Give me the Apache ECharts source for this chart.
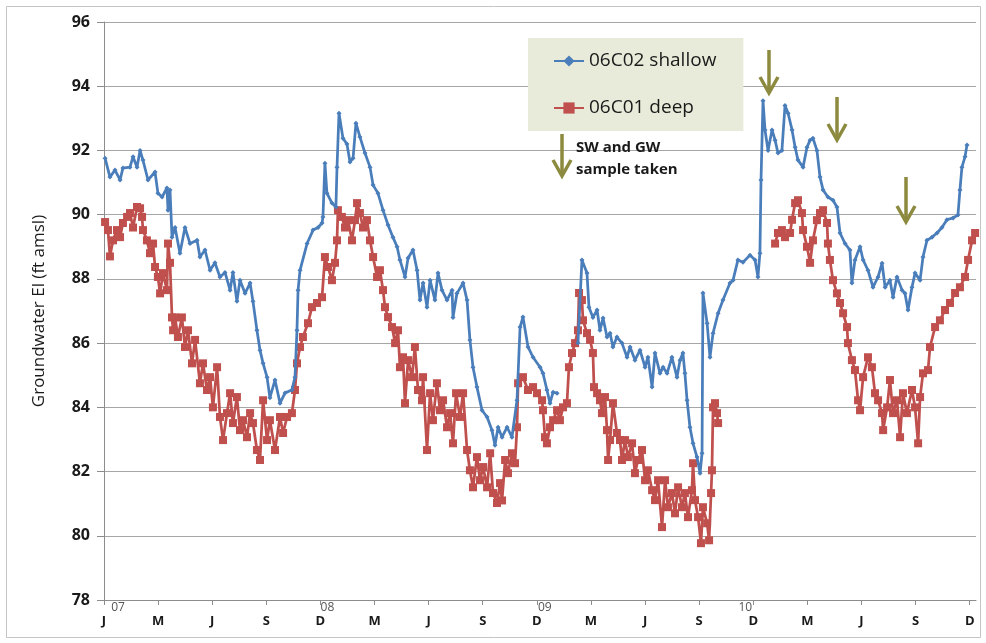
<!DOCTYPE html>
<html>
<head>
<meta charset="utf-8">
<script src="https://cdn.jsdelivr.net/npm/echarts@6/dist/echarts.min.js"></script>
<style>html,body{margin:0;padding:0;background:#fff}#c{width:986px;height:643px}</style>
</head>
<body>
<div id="c"></div>
<script>
// x values are months since the first "J" tick (Jan 2007); null level = gap in record
var monthLabels = ['J','M','J','S','D','M','J','S','D','M','J','S','D','M','J','S','D'];
var yearLabels = ['07','08','09','10'];
var yearTickMonths = [0, 12, 24, 36];

var shallowMonths = [0.06,0.33,0.61,0.89,1.05,1.44,1.61,1.83,2.00,2.16,2.44,2.83,2.99,3.22,3.49,3.55,3.66,3.77,3.94,4.21,4.49,4.77,5.16,5.32,5.60,5.88,6.15,6.43,6.71,6.99,7.15,7.37,7.54,7.82,8.10,8.26,8.48,8.65,8.82,9.04,9.20,9.48,9.76,10.04,10.42,10.59,10.70,10.76,10.87,11.26,11.59,11.87,12.09,12.14,12.25,12.36,12.64,12.86,12.92,13.03,13.25,13.47,13.64,13.81,13.97,14.19,14.47,14.75,14.92,15.19,15.47,15.75,16.02,16.25,16.41,16.69,16.86,17.13,17.36,17.52,17.69,17.91,18.08,18.35,18.52,18.74,19.02,19.30,19.35,19.57,19.91,20.13,20.29,20.46,20.68,20.96,21.24,21.51,21.68,21.85,22.07,22.35,22.62,22.90,23.07,23.23,23.51,23.79,24.18,24.34,24.56,24.73,24.90,25.12,25.70,26.28,26.50,26.78,26.89,27.11,27.34,27.50,27.67,27.89,28.06,28.22,28.44,28.72,29.00,29.17,29.44,29.72,30.00,30.16,30.39,30.55,30.83,31.00,31.22,31.49,31.77,31.94,32.10,32.21,32.33,32.49,32.66,32.88,33.05,33.16,33.21,33.44,33.60,33.77,34.05,34.32,34.71,34.88,35.15,35.43,35.82,36.10,36.26,36.37,36.43,36.54,36.65,36.82,37.04,37.21,37.37,37.59,37.76,37.93,38.15,38.32,38.48,38.76,38.98,39.15,39.31,39.53,39.70,39.87,40.14,40.42,40.64,40.81,41.09,41.36,41.47,41.64,41.92,42.09,42.36,42.64,42.92,43.14,43.31,43.58,43.75,43.97,44.25,44.41,44.58,44.80,44.97,45.25,45.41,45.63,45.91,46.19,46.46,46.74,47.08,47.35,47.46,47.57,47.74,47.85];
var shallowLevels = [91.76,91.17,91.39,91.08,91.45,91.48,91.80,91.48,92.00,91.70,91.08,91.33,90.67,90.55,90.83,90.14,90.77,89.30,89.60,88.80,89.60,89.10,89.20,88.68,88.90,88.27,88.50,88.06,88.20,87.65,88.20,87.30,87.96,87.55,87.87,87.30,86.40,85.78,85.37,84.94,84.30,84.85,84.13,84.45,84.54,84.94,86.40,87.65,88.27,89.10,89.52,89.60,89.74,89.93,91.60,90.67,90.36,90.24,91.48,93.16,92.38,92.20,91.64,91.76,92.85,92.42,91.92,91.48,90.92,90.67,90.14,89.68,89.30,89.00,88.59,88.06,88.65,88.90,88.27,87.34,87.87,87.12,87.96,87.34,88.18,87.65,87.34,87.65,86.80,87.55,87.87,87.34,86.10,85.25,84.63,83.91,83.70,83.29,82.82,83.38,83.07,83.38,83.07,84.22,86.50,86.81,85.88,85.56,85.25,85.06,84.54,84.13,84.47,84.44,null,86.00,88.59,88.18,87.12,86.80,87.03,86.40,86.78,86.19,86.31,85.88,86.19,86.00,85.56,85.88,85.47,85.78,85.25,85.56,84.63,85.69,85.06,85.25,85.06,85.56,84.94,85.47,85.69,85.06,84.22,83.38,82.88,82.45,81.95,82.57,87.56,86.62,85.56,86.31,86.93,87.34,87.87,87.96,88.59,88.52,88.74,88.59,88.06,88.80,91.08,93.55,92.64,92.00,92.64,92.32,91.92,92.00,93.40,93.16,92.64,92.10,91.70,91.48,92.10,92.32,92.38,92.00,91.17,90.77,90.55,90.45,90.24,89.43,89.10,88.90,87.87,88.59,89.00,88.59,88.27,87.74,88.06,88.49,87.74,87.96,87.43,88.06,87.65,87.55,87.03,87.74,88.18,87.96,88.68,89.20,89.30,89.43,89.60,89.84,89.90,89.99,90.77,91.48,91.80,92.17];

var deepMonths = [0.06,0.22,0.33,0.50,0.72,0.89,1.05,1.28,1.44,1.61,1.83,2.00,2.11,2.16,2.38,2.55,2.72,2.83,2.99,3.11,3.27,3.49,3.55,3.66,3.77,3.83,3.94,4.10,4.32,4.49,4.66,4.88,5.05,5.32,5.49,5.71,5.88,6.04,6.27,6.43,6.60,6.82,6.99,7.15,7.37,7.54,7.71,7.93,8.10,8.26,8.48,8.65,8.82,9.04,9.20,9.48,9.76,9.93,10.15,10.42,10.59,10.70,10.87,11.03,11.31,11.53,11.81,12.09,12.25,12.42,12.64,12.81,12.92,12.97,13.19,13.36,13.53,13.75,13.92,14.03,14.19,14.36,14.58,14.75,14.92,15.14,15.30,15.47,15.58,15.75,15.97,16.14,16.30,16.41,16.58,16.69,16.86,17.08,17.24,17.41,17.63,17.69,17.91,18.08,18.24,18.46,18.63,18.80,19.02,19.19,19.35,19.52,19.74,19.91,20.13,20.29,20.46,20.68,20.85,21.02,21.24,21.41,21.57,21.79,21.96,22.07,22.24,22.40,22.62,22.79,22.90,22.96,23.23,23.51,23.79,24.01,24.29,24.34,24.45,24.56,24.73,24.90,25.12,25.28,25.45,25.67,25.78,25.95,26.12,26.28,26.34,26.50,26.56,26.78,26.95,27.11,27.17,27.34,27.50,27.61,27.78,27.89,27.95,28.06,28.22,28.44,28.61,28.72,28.89,29.05,29.28,29.44,29.61,29.83,30.00,30.16,30.39,30.55,30.72,30.94,31.11,31.27,31.49,31.66,31.83,32.05,32.21,32.38,32.60,32.66,32.77,32.94,33.10,33.21,33.44,33.55,33.66,33.71,33.77,33.88,33.99,34.05,35.60,37.21,37.37,37.59,37.76,38.04,38.15,38.32,38.48,38.70,38.76,38.98,39.15,39.31,39.53,39.70,39.87,40.09,40.14,40.25,40.42,40.64,40.81,40.98,41.20,41.25,41.47,41.64,41.81,41.92,42.09,42.36,42.58,42.75,42.92,43.14,43.20,43.42,43.58,43.75,43.97,44.14,44.30,44.52,44.80,44.97,45.14,45.25,45.41,45.69,45.80,46.08,46.35,46.63,46.91,47.19,47.46,47.74,47.91,48.13,48.30];
var deepLevels = [89.77,89.52,88.70,89.20,89.52,89.30,89.74,89.93,90.05,89.60,90.24,90.20,89.93,89.52,89.20,88.80,89.10,88.37,88.06,87.55,88.18,87.65,89.10,88.50,86.80,86.40,86.80,86.19,86.80,85.88,86.40,85.37,86.10,84.75,85.37,84.54,84.94,84.00,85.25,83.70,82.98,83.82,84.44,83.51,84.32,83.29,83.60,83.07,83.82,83.51,82.67,82.36,84.22,82.98,83.60,82.67,83.70,83.20,83.70,83.82,84.54,85.37,85.88,86.19,86.62,87.12,87.25,87.43,88.68,88.37,87.96,88.50,89.20,90.14,89.93,89.60,89.83,89.20,89.83,90.36,90.05,89.60,89.83,89.20,88.68,88.06,88.27,87.65,87.12,86.81,86.50,86.00,86.40,85.25,85.56,84.13,85.47,84.94,85.88,84.54,84.22,84.94,82.67,84.44,83.60,84.75,83.91,84.22,83.38,83.82,82.88,84.44,83.70,84.44,82.67,82.04,81.51,82.45,81.73,82.14,81.51,82.57,81.33,81.02,81.64,81.10,82.36,81.95,82.57,82.26,83.38,84.75,84.94,84.54,84.63,84.44,84.22,83.91,83.07,82.88,83.38,83.60,83.91,83.60,84.00,84.13,85.25,85.69,86.00,86.40,87.56,87.34,86.71,86.31,86.10,85.69,84.63,84.44,84.22,83.82,84.32,83.29,82.36,82.98,84.13,83.20,82.98,82.36,82.98,82.45,82.88,81.95,82.36,82.67,81.73,82.04,81.42,81.11,81.73,80.27,81.73,80.89,81.33,80.70,81.51,80.89,81.33,80.58,81.42,82.26,81.11,80.58,79.77,80.89,80.39,79.86,81.33,82.04,84.00,84.13,83.82,83.51,null,89.10,89.43,89.52,89.30,89.43,89.84,90.36,90.45,90.05,89.52,89.00,88.50,89.20,89.83,90.05,90.14,89.74,89.10,88.59,87.96,87.55,87.25,86.93,86.50,86.00,85.47,85.16,84.22,83.91,84.94,85.56,85.25,84.44,84.22,83.82,83.29,84.00,84.85,83.82,84.22,83.07,84.44,83.82,84.54,84.00,82.88,84.32,85.06,85.16,85.88,86.50,86.71,87.03,87.25,87.56,87.74,88.06,88.59,89.20,89.43];

function zip(xs, ys) { return xs.map(function (x, i) { return [x, ys[i]]; }); }

var FONT = 'Open Sans';
var tickMonths = monthLabels.map(function (_, i) { return i * 3; });

var chart = echarts.init(document.getElementById('c'), null, { renderer: 'canvas' });
var option = {
  animation: false,
  backgroundColor: '#ffffff',
  grid: { left: 104, right: 10, top: 22, bottom: 43, containLabel: false },
  xAxis: {
    type: 'value', min: 0, max: 48.35,
    axisLine: { show: true, onZero: false, lineStyle: { color: '#8c8c8c', width: 1 } },
    axisTick: { show: true, customValues: tickMonths, length: 5, lineStyle: { color: '#8c8c8c' } },
    axisLabel: {
      customValues: tickMonths, margin: 15,
      fontFamily: FONT, fontWeight: 'bold', fontSize: 13, color: '#1a1a1a',
      formatter: function (v) { var i = Math.round(v / 3); return monthLabels[i] || ''; }
    },
    splitLine: { show: false }
  },
  yAxis: {
    type: 'value', min: 78, max: 96, interval: 2,
    name: 'Groundwater El (ft amsl)', nameLocation: 'middle', nameGap: 56, nameRotate: 90,
    nameTextStyle: { fontFamily: FONT, fontSize: 17, color: '#1a1a1a' },
    axisLine: { show: true, lineStyle: { color: '#8c8c8c' } },
    axisTick: { show: true, length: 7, lineStyle: { color: '#8c8c8c' } },
    axisLabel: { fontFamily: FONT, fontWeight: 'bold', fontSize: 16, color: '#1a1a1a', margin: 14 },
    splitLine: { show: true, lineStyle: { color: '#a6a6a6', width: 1 } }
  },
  legend: {
    orient: 'vertical', left: 528, top: 38,
    backgroundColor: '#e8ebd9', borderWidth: 0,
    padding: [13, 27, 13, 25], itemGap: 27, itemWidth: 30, itemHeight: 14,
    textStyle: { fontFamily: FONT, fontSize: 19, color: '#1a1a1a', lineHeight: 20 },
    data: ['06C02 shallow', '06C01 deep']
  },
  series: [
    {
      name: '06C01 deep', type: 'line', data: zip(deepMonths, deepLevels),
      symbol: 'rect', symbolSize: 8, showAllSymbol: true, connectNulls: false,
      lineStyle: { color: '#c0504d', width: 2.75 },
      itemStyle: { color: '#c0504d', borderWidth: 0 }, z: 2
    },
    {
      name: '06C02 shallow', type: 'line', data: zip(shallowMonths, shallowLevels),
      symbol: 'diamond', symbolSize: 5, showAllSymbol: true, connectNulls: false,
      lineStyle: { color: '#4a7ebb', width: 2.75 },
      itemStyle: { color: '#4a7ebb', borderWidth: 0 }, z: 3
    }
  ]
};
chart.setOption(option);

// annotations: year labels tied to axis positions, sample arrows and note
var ARROW = '#8c8a3e';
function arrow(x, y1, y2) {
  return [
    { type: 'line', shape: { x1: x, y1: y1, x2: x, y2: y2 - 2 }, style: { stroke: ARROW, lineWidth: 3.5 } },
    { type: 'polyline', shape: { points: [[x - 9, y2 - 16], [x, y2], [x + 9, y2 - 16]] }, style: { stroke: ARROW, lineWidth: 3.5, fill: null } }
  ];
}
var yearOffsets = [14, 7, 8, -8];
var g = [
  { type: 'rect', shape: { x: 6.5, y: 6.5, width: 974, height: 631 }, style: { stroke: '#c4c4c4', lineWidth: 1, fill: null }, silent: true, z: -10 }
];
yearLabels.forEach(function (t, i) {
  var p = chart.convertToPixel({ gridIndex: 0 }, [yearTickMonths[i], 78]);
  g.push({ type: 'text', x: p[0] + yearOffsets[i], y: p[1] + 8,
    style: { text: t, fontFamily: FONT, fontSize: 12, fill: '#555', align: 'center', verticalAlign: 'middle' } });
});
g = g.concat(arrow(562, 134, 176), arrow(769, 50, 93), arrow(837, 97, 140), arrow(906, 177, 222));
g.push({ type: 'text', x: 576, y: 148, style: { text: 'SW and GW', fontFamily: FONT, fontSize: 15, fontWeight: 'bold', fill: '#1a1a1a', verticalAlign: 'middle' } });
g.push({ type: 'text', x: 576, y: 170, style: { text: 'sample taken', fontFamily: FONT, fontSize: 15, fontWeight: 'bold', fill: '#1a1a1a', verticalAlign: 'middle' } });
chart.setOption({ graphic: g });
</script>
</body>
</html>
